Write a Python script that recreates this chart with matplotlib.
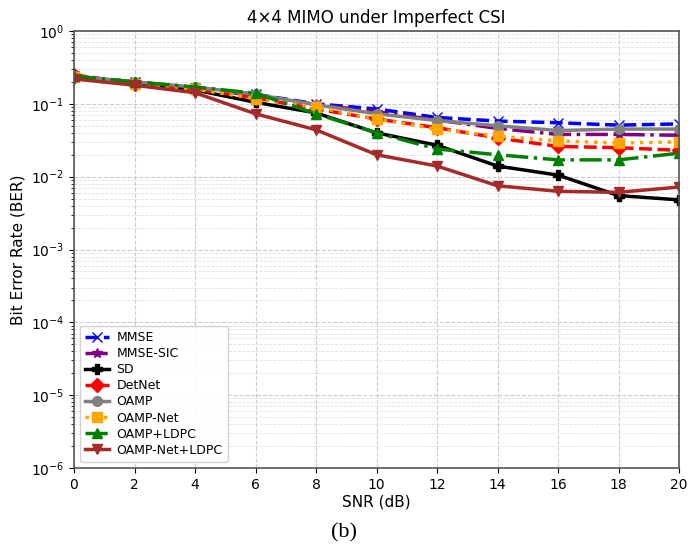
import matplotlib
matplotlib.use("Agg")
import matplotlib.pyplot as plt
from matplotlib.ticker import LogLocator

snr = [0, 2, 4, 6, 8, 10, 12, 14, 16, 18, 20]

mmse = [0.24, 0.20, 0.165, 0.135, 0.100, 0.085, 0.065, 0.058, 0.055, 0.051, 0.053]
mmse_sic = [0.24, 0.20, 0.165, 0.130, 0.098, 0.078, 0.060, 0.046, 0.038, 0.038, 0.037]
sd = [0.235, 0.19, 0.155, 0.105, 0.075, 0.040, 0.027, 0.014, 0.0105, 0.0055, 0.0048]
detnet = [0.25, 0.19, 0.16, 0.120, 0.085, 0.062, 0.047, 0.034, 0.026, 0.025, 0.023]
oamp = [0.24, 0.20, 0.17, 0.135, 0.097, 0.073, 0.059, 0.050, 0.043, 0.045, 0.045]
oamp_net = [0.23, 0.19, 0.16, 0.118, 0.090, 0.062, 0.045, 0.036, 0.031, 0.029, 0.030]
oamp_ldpc = [0.24, 0.20, 0.17, 0.140, 0.073, 0.040, 0.024, 0.020, 0.017, 0.017, 0.021]
oamp_net_ldpc = [0.22, 0.18, 0.142, 0.073, 0.044, 0.020, 0.014, 0.0075, 0.0063, 0.0061, 0.0072]

series = [
    ("MMSE", mmse, "blue", "--", "x"),
    ("MMSE-SIC", mmse_sic, "purple", "-.", "*"),
    ("SD", sd, "black", "-", "P"),
    ("DetNet", detnet, "red", "--", "D"),
    ("OAMP", oamp, "gray", "-", "o"),
    ("OAMP-Net", oamp_net, "orange", ":", "s"),
    ("OAMP+LDPC", oamp_ldpc, "green", "-.", "^"),
    ("OAMP-Net+LDPC", oamp_net_ldpc, "brown", "-", "v"),
]


def main():
    fig = plt.figure(figsize=(6.88, 5.5), dpi=100)
    ax = fig.add_axes([74 / 688, 1 - 468 / 550, (679 - 74) / 688, (468 - 31) / 550])

    for label, vals, color, ls, mk in series:
        ax.semilogy(snr, vals, color=color, linestyle=ls, marker=mk,
                    linewidth=2.5, markersize=7, label=label)

    ax.set_xlim(0, 20)
    ax.set_ylim(1e-6, 1)
    ax.set_xticks(range(0, 21, 2))
    ax.yaxis.set_major_locator(LogLocator(base=10, numticks=10))
    ax.yaxis.set_minor_locator(LogLocator(base=10, subs=range(2, 10), numticks=20))
    ax.tick_params(labelsize=10)

    ax.grid(True, which="major", linestyle="--", color="#cccccc", linewidth=0.8)
    ax.grid(True, which="minor", axis="y", linestyle="--", color="#e0e0e0", linewidth=0.6)
    for s in ax.spines.values():
        s.set_color("#555555")
        s.set_linewidth(1.2)

    ax.set_title("4×4 MIMO under Imperfect CSI", fontsize=12)
    ax.set_xlabel("SNR (dB)", fontsize=11, labelpad=2)
    ax.set_ylabel("Bit Error Rate (BER)", fontsize=11)

    ax.legend(loc="lower left", fontsize=9, labelspacing=0.25,
              handlelength=1.9, handletextpad=0.6, borderpad=0.4,
              framealpha=0.9)

    fig.text(0.5, 1 - 533 / 550, "(b)", fontsize=16, family="Liberation Serif",
             ha="center", va="center")

    fig.savefig("out.png", dpi=100)
    plt.close(fig)


if __name__ == "__main__":
    main()
